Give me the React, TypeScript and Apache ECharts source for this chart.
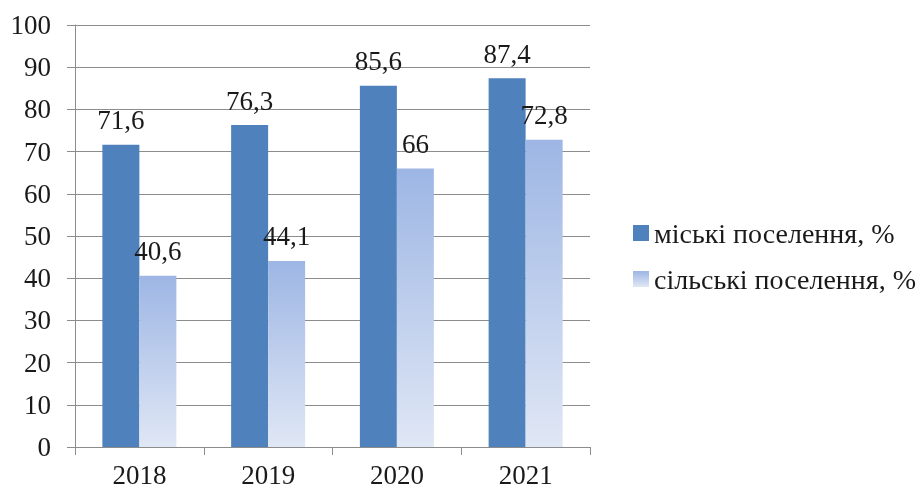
import React, { useEffect, useRef } from "react";
import * as echarts from "echarts";

const categories = ["2018", "2019", "2020", "2021"];
const urbanValues = [71.6, 76.3, 85.6, 87.4];
const ruralValues = [40.6, 44.1, 66, 72.8];
const seriesNames = ["міські поселення, %", "сільські поселення, %"];

const FONT = "Liberation Serif, Times New Roman, serif";
const TEXT = "#1a1a1a";
const GRID = "#8c8c8c";

export default function App() {
  const ref = useRef<HTMLDivElement>(null);
  useEffect(() => {
    if (!ref.current) return;
    const chart = echarts.init(ref.current, undefined, { renderer: "svg" });
    const fmt = (p: any) => String(p.value).replace(".", ",");
    chart.setOption({
      animation: false,
      textStyle: { fontFamily: FONT },
      grid: { left: 75, right: 330, top: 25, bottom: 43, containLabel: false },
      legend: {
        orient: "vertical",
        left: 628,
        top: 214,
        itemWidth: 16,
        itemHeight: 16,
        itemGap: 18,
        icon: "rect",
        textStyle: { fontFamily: FONT, fontSize: 28, color: TEXT },
        data: seriesNames,
      },
      xAxis: {
        type: "category",
        data: categories,
        axisLine: { show: true, lineStyle: { color: GRID, width: 1 } },
        axisTick: { show: true, length: 8, alignWithLabel: false, lineStyle: { color: GRID } },
        axisLabel: { fontFamily: FONT, fontSize: 27, color: TEXT, margin: 14 },
        splitLine: { show: false },
      },
      yAxis: {
        type: "value",
        min: 0,
        max: 100,
        interval: 10,
        axisLine: { show: true, lineStyle: { color: GRID, width: 1 } },
        axisTick: { show: true, length: 8, lineStyle: { color: GRID } },
        axisLabel: { fontFamily: FONT, fontSize: 27, color: TEXT, margin: 24 },
        splitLine: { show: true, lineStyle: { color: GRID, width: 1 } },
      },
      series: [
        {
          name: seriesNames[0],
          type: "bar",
          data: urbanValues,
          barWidth: 37,
          barGap: "0%",
          itemStyle: { color: "#4f81bd" },
          label: {
            show: true,
            position: "top",
            distance: 11,
            formatter: fmt,
            fontFamily: FONT,
            fontSize: 27,
            color: TEXT,
          },
        },
        {
          name: seriesNames[1],
          type: "bar",
          data: ruralValues,
          barWidth: 37,
          barGap: "0%",
          itemStyle: {
            color: new echarts.graphic.LinearGradient(0, 0, 0, 1, [
              { offset: 0, color: "#9db6e4" },
              { offset: 1, color: "#e0e7f5" },
            ]),
          },
          label: {
            show: true,
            position: "top",
            distance: 11,
            formatter: fmt,
            fontFamily: FONT,
            fontSize: 27,
            color: TEXT,
          },
        },
      ],
    });
    return () => chart.dispose();
  }, []);
  return (
    <div
      ref={ref}
      style={{ position: "fixed", left: 0, top: 0, width: 920, height: 490 }}
    />
  );
}
